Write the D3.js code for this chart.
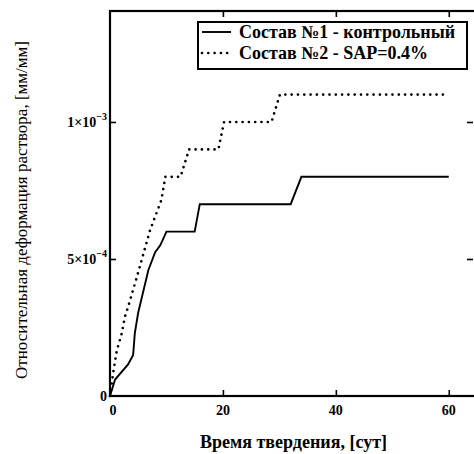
<!DOCTYPE html>
<html>
<head>
<meta charset="utf-8">
<script src="https://cdn.jsdelivr.net/npm/d3@7"></script>
<style>
  body { margin: 0; background: #fff; }
  svg { display: block; font-family: "Liberation Serif", "DejaVu Serif", serif; }
</style>
</head>
<body>
<svg id="chart" width="474" height="454"></svg>
<script>
// Состав №1 - контрольный (сплошная)
const sostav1 = [
  [0, 0], [0.9, 0.6e-4], [3.2, 1.15e-4], [4.1, 1.5e-4], [4.4, 2.3e-4], [5.0, 3.05e-4],
  [6.8, 4.6e-4], [8.0, 5.25e-4], [8.9, 5.5e-4], [10.0, 6.0e-4], [15.0, 6.0e-4],
  [15.9, 7.0e-4], [32.0, 7.0e-4], [33.9, 8.0e-4], [60.0, 8.0e-4]
];
// Состав №2 - SAP=0.4% (пунктир)
const sostav2 = [
  [0, 0], [0.6, 0.9e-4], [1.2, 1.65e-4], [2.1, 2.3e-4], [2.65, 2.9e-4], [3.2, 3.25e-4],
  [4.7, 4.3e-4], [7.1, 6.05e-4], [9.1, 7.15e-4], [9.8, 8.0e-4], [12.5, 8.0e-4],
  [14.0, 9.0e-4], [19.2, 9.0e-4], [20.2, 1.0e-3], [28.6, 1.0e-3], [30.1, 1.1e-3], [59.3, 1.1e-3]
];
const xTicks = [0, 20, 40, 60];
const yTicks = [0, 5e-4, 1e-3];
const yTickLabels = [["0", ""], ["5×10", "−4"], ["1×10", "−3"]];
const legendNames = ["Состав №1 - контрольный", "Состав №2 - SAP=0.4%"];

const svg = d3.select("#chart");
const plotLeft = 110, plotRight = 477, plotTop = 11, plotBottom = 396;

const x = d3.scaleLinear().domain([0, 65]).range([plotLeft, plotRight]);
const y = d3.scaleLinear().domain([0, 1.405e-3]).range([plotBottom, plotTop]);

// frame
svg.append("rect")
  .attr("x", plotLeft).attr("y", plotTop)
  .attr("width", plotRight - plotLeft).attr("height", plotBottom - plotTop)
  .attr("fill", "none").attr("stroke", "#000").attr("stroke-width", 2.2);

// ticks (inward)
svg.append("g").attr("transform", `translate(0,${plotBottom})`)
  .call(d3.axisTop(x).tickValues(xTicks.slice(1)).tickSize(6).tickFormat(""))
  .call(g => g.select(".domain").remove());
svg.append("g").attr("transform", `translate(0,${plotTop})`)
  .call(d3.axisBottom(x).tickValues(xTicks.slice(1)).tickSize(6).tickFormat(""))
  .call(g => g.select(".domain").remove());
svg.append("g").attr("transform", `translate(${plotLeft},0)`)
  .call(d3.axisRight(y).tickValues(yTicks.slice(1)).tickSize(6).tickFormat(""))
  .call(g => g.select(".domain").remove());
svg.append("g").attr("transform", `translate(${plotRight - 4},0)`)
  .call(d3.axisLeft(y).tickValues(yTicks.slice(1)).tickSize(6).tickFormat(""))
  .call(g => g.select(".domain").remove());
svg.selectAll(".tick line").attr("stroke-width", 1.6);

// x tick labels
svg.selectAll(".xlab")
  .data(xTicks)
  .enter().append("text")
  .attr("x", d => x(d) + (d === 0 ? 3 : 0))
  .attr("y", plotBottom + 19)
  .attr("text-anchor", "middle")
  .attr("font-size", 14).attr("font-weight", "bold")
  .text(d => d);

// y tick labels
const yl = svg.selectAll(".ylab")
  .data(yTicks)
  .enter().append("text")
  .attr("x", plotLeft - 3)
  .attr("y", d => y(d) + 5)
  .attr("text-anchor", "end")
  .attr("font-size", 14).attr("font-weight", "bold");
yl.append("tspan").text((d, i) => yTickLabels[i][0]);
yl.append("tspan").attr("dy", -7).attr("font-size", 10).text((d, i) => yTickLabels[i][1]);

// lines
const line = d3.line().x(d => x(d[0])).y(d => y(d[1]));
svg.append("path").datum(sostav1)
  .attr("d", line).attr("fill", "none")
  .attr("stroke", "#000").attr("stroke-width", 1.9);
svg.append("path").datum(sostav2)
  .attr("d", line).attr("fill", "none")
  .attr("stroke", "#000").attr("stroke-width", 2.7)
  .attr("stroke-linecap", "round").attr("stroke-dasharray", "0 6.3");

// legend
const lg = svg.append("g");
lg.append("rect").attr("x", 198).attr("y", 22).attr("width", 269).attr("height", 47)
  .attr("fill", "#fff").attr("stroke", "#000").attr("stroke-width", 2);
legendNames.forEach((name, i) => {
  const cy = 32 + i * 21;
  lg.append("line").attr("x1", 202).attr("x2", 231).attr("y1", cy).attr("y2", cy)
    .attr("stroke", "#000")
    .attr("stroke-width", i === 0 ? 1.9 : 2.7)
    .attr("stroke-linecap", i === 0 ? "butt" : "round")
    .attr("stroke-dasharray", i === 0 ? null : "0 6.3");
  lg.append("text").attr("x", 239).attr("y", cy + 6)
    .attr("font-size", 18).attr("font-weight", "bold")
    .text(name);
});

// axis titles
svg.append("text")
  .attr("x", (plotLeft + plotRight) / 2).attr("y", 448)
  .attr("text-anchor", "middle")
  .attr("font-size", 18).attr("font-weight", "bold")
  .text("Время твердения, [сут]");
svg.append("text")
  .attr("transform", "translate(27,210) rotate(-90)")
  .attr("text-anchor", "middle")
  .attr("font-size", 17)
  .text("Относительная деформация раствора, [мм/мм]");
</script>
</body>
</html>
